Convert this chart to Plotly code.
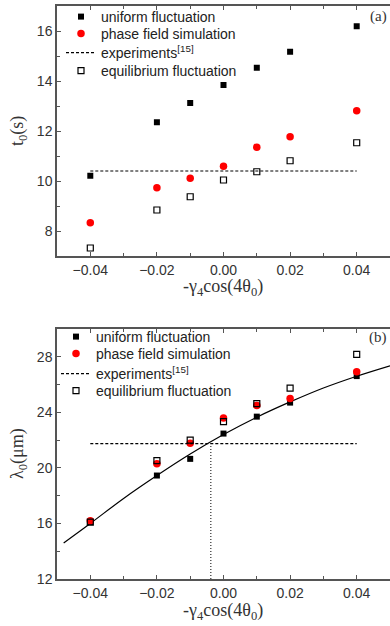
import plotly.graph_objects as go

x_vals = [-0.04, -0.02, -0.01, 0.00, 0.01, 0.02, 0.04]

# panel (a): t0 (s)
t_uniform = [10.21, 12.35, 13.12, 13.84, 14.53, 15.17, 16.19]
t_phase = [8.33, 9.73, 10.11, 10.59, 11.35, 11.77, 12.81]
t_equil = [7.32, 8.84, 9.37, 10.04, 10.37, 10.81, 11.53]
t_exp = 10.4
exp_x = [-0.04, 0.04]

# panel (b): lambda0 (um)
l_uniform = [16.10, 19.45, 20.65, 22.47, 23.69, 24.70, 26.61]
l_phase = [16.20, 20.30, 21.77, 23.59, 24.50, 25.00, 26.92]
l_equil = [16.10, 20.52, 22.00, 23.33, 24.62, 25.75, 28.17]
l_exp = 21.75
cross_x = -0.0038

fit_x = [-0.048, -0.04, -0.03, -0.02, -0.01, 0.0, 0.01, 0.02, 0.03, 0.04, 0.05]
fit_y = [14.6, 16.0, 17.8, 19.45, 21.0, 22.4, 23.65, 24.75, 25.75, 26.6, 27.35]

names = ["uniform fluctuation", "phase field simulation", "experiments<sup>[15]</sup>",
         "equilibrium fluctuation"]

W, H = 390, 626


def px(x):
    return x / W


def py(y):
    return (H - y) / H


fig = go.Figure()

sq = dict(symbol="square", size=6, color="black")
osq = dict(symbol="square-open", size=6, color="black", line=dict(width=1.2, color="black"))
circ = dict(symbol="circle", size=7.5, color="#ff0000")
dash = dict(color="black", width=1.1, dash="3px,2px")

# panel a
fig.add_trace(go.Scatter(x=x_vals, y=t_uniform, mode="markers", marker=sq,
                         name=names[0], xaxis="x", yaxis="y", legend="legend"))
fig.add_trace(go.Scatter(x=x_vals, y=t_phase, mode="markers", marker=circ,
                         name=names[1], xaxis="x", yaxis="y", legend="legend2"))
fig.add_trace(go.Scatter(x=exp_x, y=[t_exp, t_exp], mode="lines", line=dash,
                         name=names[2], xaxis="x", yaxis="y", legend="legend3"))
fig.add_trace(go.Scatter(x=x_vals, y=t_equil, mode="markers", marker=osq,
                         name=names[3], xaxis="x", yaxis="y", legend="legend4"))

# panel b
fig.add_trace(go.Scatter(x=fit_x, y=fit_y, mode="lines", line=dict(color="black", width=1.2, shape="spline"),
                         showlegend=False, xaxis="x2", yaxis="y2"))
fig.add_trace(go.Scatter(x=[cross_x, cross_x], y=[12, l_exp], mode="lines",
                         line=dict(color="black", width=1, dash="1px,2px"),
                         showlegend=False, xaxis="x2", yaxis="y2"))
fig.add_trace(go.Scatter(x=x_vals, y=l_uniform, mode="markers", marker=sq,
                         name=names[0], xaxis="x2", yaxis="y2", legend="legend5"))
fig.add_trace(go.Scatter(x=x_vals, y=l_phase, mode="markers", marker=circ,
                         name=names[1], xaxis="x2", yaxis="y2", legend="legend6"))
fig.add_trace(go.Scatter(x=exp_x, y=[l_exp, l_exp], mode="lines", line=dash,
                         name=names[2], xaxis="x2", yaxis="y2", legend="legend7"))
fig.add_trace(go.Scatter(x=x_vals, y=l_equil, mode="markers", marker=osq,
                         name=names[3], xaxis="x2", yaxis="y2", legend="legend8"))

xdom = [px(57), 1.0]
ydom_a = [py(256), py(6)]
ydom_b = [py(579), py(329)]

tickfont = dict(family="Liberation Sans, Arial", size=14, color="#333")
axcommon = dict(showline=True, linecolor="#555", linewidth=1.5, ticks="inside", ticklen=4,
                tickcolor="#555", tickwidth=1, showgrid=False, zeroline=False, tickfont=tickfont,
                automargin=False)
minor_x = dict(dtick=0.01, tick0=-0.04, ticks="inside", ticklen=3, tickcolor="#555")

layout = dict(
    width=W, height=H, margin=dict(l=0, r=0, t=0, b=0),
    paper_bgcolor="white", plot_bgcolor="white",
    xaxis=dict(domain=xdom, anchor="y", range=[-0.05, 0.05], dtick=0.02, tick0=-0.04,
               tickformat=".2f", mirror="ticks", minor=minor_x, **axcommon),
    yaxis=dict(domain=ydom_a, anchor="x", range=[7, 17], dtick=2, tick0=8,
               minor=dict(dtick=1, ticks="inside", ticklen=3, tickcolor="#555"), **axcommon),
    xaxis2=dict(domain=xdom, anchor="y2", range=[-0.05, 0.05], dtick=0.02, tick0=-0.04,
                tickformat=".2f", mirror="ticks", minor=minor_x, **axcommon),
    yaxis2=dict(domain=ydom_b, anchor="x2", range=[12, 30], dtick=4, tick0=12,
                minor=dict(dtick=2, ticks="inside", ticklen=3, tickcolor="#555"), **axcommon),
    showlegend=True,
)

legfont = dict(family="Liberation Sans, Arial", size=14, color="#222")
rows_a = [17, 34, 53, 71]
rows_b = [337, 354, 374, 391]
for i, yy in enumerate(rows_a + rows_b):
    key = "legend" if i == 0 else f"legend{i + 1}"
    lx = 61 if i < 4 else 56
    layout[key] = dict(x=px(lx), y=py(yy), xanchor="left", yanchor="middle",
                       bgcolor="rgba(0,0,0,0)", font=legfont, itemwidth=30, borderwidth=0)

fig.update_layout(**layout)

serif = dict(family="Liberation Serif, Times New Roman", size=18, color="#333")
xt = "-γ<sub>4</sub>cos(4θ<sub>0</sub>)"
fig.add_annotation(text=xt, xref="paper", yref="paper", x=px((57 + 390) / 2), y=py(287),
                   showarrow=False, font=serif, xanchor="center", yanchor="middle")
fig.add_annotation(text=xt, xref="paper", yref="paper", x=px((57 + 390) / 2), y=py(611),
                   showarrow=False, font=serif, xanchor="center", yanchor="middle")
fig.add_annotation(text="t<sub>0</sub>(s)", xref="paper", yref="paper", x=px(18), y=py(131),
                   showarrow=False, font=serif, textangle=-90, xanchor="center", yanchor="middle")
fig.add_annotation(text="λ<sub>0</sub>(μm)", xref="paper", yref="paper", x=px(18), y=py(454),
                   showarrow=False, font=serif, textangle=-90, xanchor="center", yanchor="middle")
pl = dict(family="Liberation Serif, Times New Roman", size=15, color="#333")
fig.add_annotation(text="(a)", xref="paper", yref="paper", x=px(389), y=py(17),
                   showarrow=False, font=pl, xanchor="right", yanchor="middle")
fig.add_annotation(text="(b)", xref="paper", yref="paper", x=px(389), y=py(337),
                   showarrow=False, font=pl, xanchor="right", yanchor="middle")

fig.write_html("out.html", config={"displayModeBar": False},
               post_script="document.body.style.margin='0px';")
